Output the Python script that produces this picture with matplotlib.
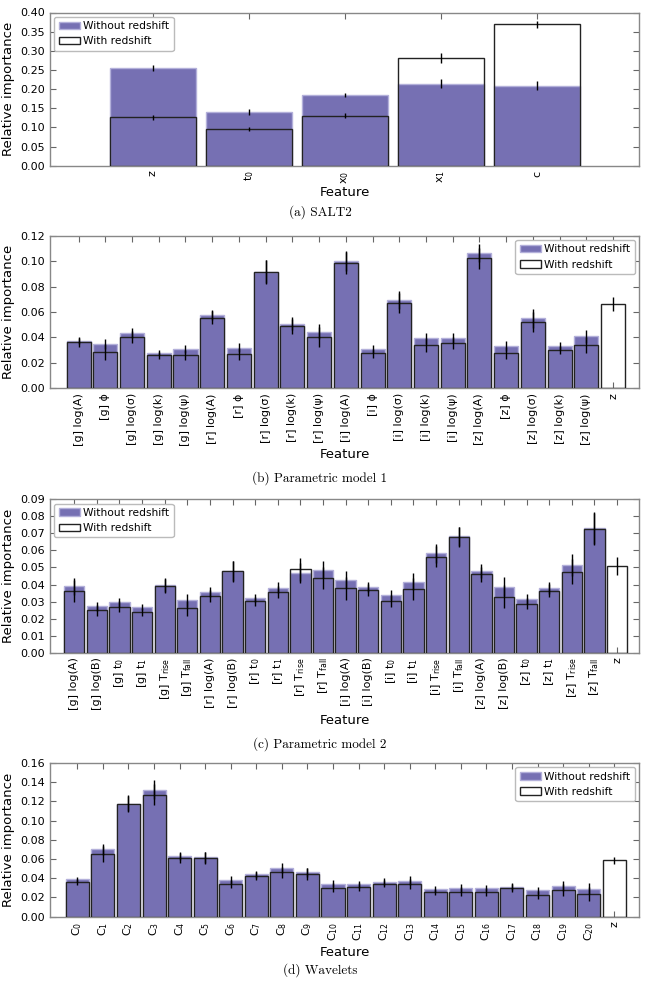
import numpy as np
import matplotlib
matplotlib.use('Agg')
import matplotlib.pyplot as plt
from matplotlib.patches import Patch
from matplotlib.ticker import FormatStrFormatter, MultipleLocator

purple = '#7670b3'
purple_edge = '#b3b0da'

# (a) SALT2
labels_a = ['z', r't$_\mathregular{0}$', r'x$_\mathregular{0}$', r'x$_\mathregular{1}$', 'c']
without_a = [0.255, 0.140, 0.185, 0.214, 0.209]
without_err_a = [0.009, 0.008, 0.006, 0.012, 0.011]
with_a = [0.126, 0.095, 0.131, 0.280, 0.369]
with_err_a = [0.007, 0.005, 0.006, 0.013, 0.009]

# (b) Parametric model 1
labels_b = ['[g] log(A)', '[g] ϕ', '[g] log(σ)', '[g] log(k)', '[g] log(ψ)',
            '[r] log(A)', '[r] ϕ', '[r] log(σ)', '[r] log(k)', '[r] log(ψ)',
            '[i] log(A)', '[i] ϕ', '[i] log(σ)', '[i] log(k)', '[i] log(ψ)',
            '[z] log(A)', '[z] ϕ', '[z] log(σ)', '[z] log(k)', '[z] log(ψ)', 'z']
without_b = [0.0375, 0.0346, 0.0432, 0.0280, 0.0309, 0.0576, 0.0320, 0.0917, 0.0508, 0.0445,
             0.1003, 0.0309, 0.0697, 0.0393, 0.0398, 0.1064, 0.0335, 0.0550, 0.0335, 0.0409, 0]
without_err_b = [0.0030, 0.0040, 0.0040, 0.0020, 0.0030, 0.0040, 0.0035, 0.0090, 0.0050, 0.0060,
                 0.0080, 0.0030, 0.0070, 0.0045, 0.0040, 0.0070, 0.0040, 0.0075, 0.0030, 0.0050, 0]
with_b = [0.0362, 0.0286, 0.0403, 0.0260, 0.0260, 0.0555, 0.0270, 0.0914, 0.0487, 0.0403,
          0.0985, 0.0275, 0.0670, 0.0340, 0.0356, 0.1022, 0.0278, 0.0519, 0.0301, 0.0340, 0.0663]
with_err_b = [0.0037, 0.0060, 0.0050, 0.0026, 0.0040, 0.0050, 0.0050, 0.0097, 0.0060, 0.0080,
              0.0090, 0.0035, 0.0076, 0.0055, 0.0045, 0.0080, 0.0050, 0.0080, 0.0035, 0.0060, 0.0054]

# (c) Parametric model 2
labels_c = ['[g] log(A)', '[g] log(B)', r'[g] t$_\mathregular{0}$', r'[g] t$_\mathregular{1}$',
            r'[g] T$_\mathregular{rise}$', r'[g] T$_\mathregular{fall}$',
            '[r] log(A)', '[r] log(B)', r'[r] t$_\mathregular{0}$', r'[r] t$_\mathregular{1}$',
            r'[r] T$_\mathregular{rise}$', r'[r] T$_\mathregular{fall}$',
            '[i] log(A)', '[i] log(B)', r'[i] t$_\mathregular{0}$', r'[i] t$_\mathregular{1}$',
            r'[i] T$_\mathregular{rise}$', r'[i] T$_\mathregular{fall}$',
            '[z] log(A)', '[z] log(B)', r'[z] t$_\mathregular{0}$', r'[z] t$_\mathregular{1}$',
            r'[z] T$_\mathregular{rise}$', r'[z] T$_\mathregular{fall}$', 'z']
without_c = [0.0391, 0.0272, 0.0295, 0.0268, 0.0395, 0.0307, 0.0356, 0.0479, 0.0323, 0.0380,
             0.0468, 0.0487, 0.0427, 0.0384, 0.0337, 0.0417, 0.0583, 0.0683, 0.0479, 0.0387,
             0.0313, 0.0382, 0.0513, 0.0730, 0]
without_err_c = [0.0050, 0.0028, 0.0028, 0.0020, 0.0040, 0.0038, 0.0032, 0.0058, 0.0024, 0.0032,
                 0.0060, 0.0050, 0.0050, 0.0030, 0.0030, 0.0050, 0.0055, 0.0055, 0.0040, 0.0055,
                 0.0030, 0.0035, 0.0065, 0.0090, 0]
with_c = [0.0362, 0.0248, 0.0270, 0.0239, 0.0393, 0.0262, 0.0333, 0.0477, 0.0301, 0.0358,
          0.0489, 0.0436, 0.0378, 0.0368, 0.0303, 0.0374, 0.0563, 0.0681, 0.0460, 0.0329,
          0.0288, 0.0364, 0.0475, 0.0728, 0.0509]
with_err_c = [0.0063, 0.0034, 0.0033, 0.0025, 0.0044, 0.0044, 0.0036, 0.0060, 0.0027, 0.0036,
              0.0068, 0.0065, 0.0067, 0.0035, 0.0034, 0.0066, 0.0063, 0.0058, 0.0045, 0.0067,
              0.0034, 0.0039, 0.0074, 0.0096, 0.0051]

# (d) Wavelets
labels_d = [r'C$_\mathregular{%d}$' % i for i in range(21)] + ['z']
without_d = [0.0389, 0.0702, 0.1178, 0.1324, 0.0629, 0.0618, 0.0379, 0.0441, 0.0504, 0.0462,
             0.0344, 0.0337, 0.0365, 0.0375, 0.0288, 0.0299, 0.0299, 0.0313, 0.0274, 0.0320,
             0.0292, 0]
without_err_d = [0.0025, 0.0060, 0.0080, 0.0100, 0.0040, 0.0055, 0.0040, 0.0035, 0.0050, 0.0050,
                 0.0040, 0.0035, 0.0035, 0.0045, 0.0030, 0.0040, 0.0035, 0.0035, 0.0040, 0.0050,
                 0.0060, 0]
with_d = [0.0365, 0.0653, 0.1174, 0.1271, 0.0608, 0.0608, 0.0340, 0.0424, 0.0462, 0.0445,
          0.0299, 0.0309, 0.0344, 0.0337, 0.0257, 0.0261, 0.0257, 0.0295, 0.0229, 0.0278,
          0.0236, 0.0587]
with_err_d = [0.0030, 0.0080, 0.0089, 0.0110, 0.0050, 0.0064, 0.0045, 0.0040, 0.0057, 0.0060,
              0.0047, 0.0042, 0.0038, 0.0052, 0.0035, 0.0047, 0.0042, 0.0042, 0.0043, 0.0060,
              0.0068, 0.0036]

panels = [
    (labels_a, without_a, without_err_a, with_a, with_err_a, 0.40, 0.05, 'upper left', '(a) SALT2'),
    (labels_b, without_b, without_err_b, with_b, with_err_b, 0.12, 0.02, 'upper right', '(b) Parametric model 1'),
    (labels_c, without_c, without_err_c, with_c, with_err_c, 0.09, 0.01, 'upper left', '(c) Parametric model 2'),
    (labels_d, without_d, without_err_d, with_d, with_err_d, 0.16, 0.02, 'upper right', '(d) Wavelets'),
]

# axes boxes in pixels (top, bottom) of a 645x985 figure
boxes = [(12.5, 165.7), (235.7, 388.3), (499.3, 652.7), (763.0, 916.7)]
captions_y = [212, 478, 744, 970]
xlabel_y = [193, 455, 720, 953]

W, H = 645., 985.
fig = plt.figure(figsize=(6.45, 9.85), dpi=100)

for k, (labels, wo, wo_err, wi, wi_err, ymax, ystep, loc, cap) in enumerate(panels):
    top, bot = boxes[k]
    ax = fig.add_axes([50 / W, 1 - bot / H, 589 / W, (bot - top) / H])
    n = len(labels)
    x = np.arange(n)
    wo = np.array(wo)
    wi = np.array(wi)
    has_wo = wo > 0

    ax.bar(x[has_wo], wo[has_wo], 0.9, color=purple, edgecolor=purple_edge, linewidth=1.0, zorder=2)
    ax.bar(x, wi, 0.9, facecolor='none', edgecolor='#222222', linewidth=1.0, zorder=3)
    ax.errorbar(x[has_wo], wo[has_wo], yerr=np.array(wo_err)[has_wo], fmt='none',
                ecolor='black', elinewidth=1.0, capsize=0, zorder=4)
    ax.errorbar(x, wi, yerr=wi_err, fmt='none', ecolor='black', elinewidth=1.0, capsize=0, zorder=4)

    ax.set_xlim(-1.07, n - 1 + 0.97 if k > 0 else n + 0.06)
    ax.set_ylim(0, ymax)
    ax.yaxis.set_major_locator(MultipleLocator(ystep))
    ax.yaxis.set_major_formatter(FormatStrFormatter('%.2f'))
    ax.set_xticks(x)
    ax.set_xticklabels(labels, rotation=90, fontsize=8)
    ax.tick_params(axis='both', direction='in', top=True, right=True, length=4,
                   width=0.8, color='#666666', labelsize=8)
    for s in ax.spines.values():
        s.set_color('#888888')
        s.set_linewidth(1.0)

    ax.set_ylabel('Relative importance', fontsize=9.5)
    ax.yaxis.set_label_coords(-35 / 589, 0.5)
    fig.text(345 / W, 1 - xlabel_y[k] / H, 'Feature', ha='center', va='center', fontsize=9.5)
    fig.text(320 / W, 1 - captions_y[k] / H, cap, ha='center', va='center',
             fontsize=9.5, family='cmr10')

    handles = [Patch(facecolor=purple, edgecolor=purple_edge, label='Without redshift'),
               Patch(facecolor='white', edgecolor='#222222', label='With redshift')]
    leg = ax.legend(handles=handles, loc=loc, fontsize=7.7, fancybox=True, framealpha=1,
                    handlelength=2.0, handletextpad=0.3, borderaxespad=0.4)
    leg.get_frame().set_edgecolor('#bbbbbb')

fig.savefig('out.png', dpi=100)
